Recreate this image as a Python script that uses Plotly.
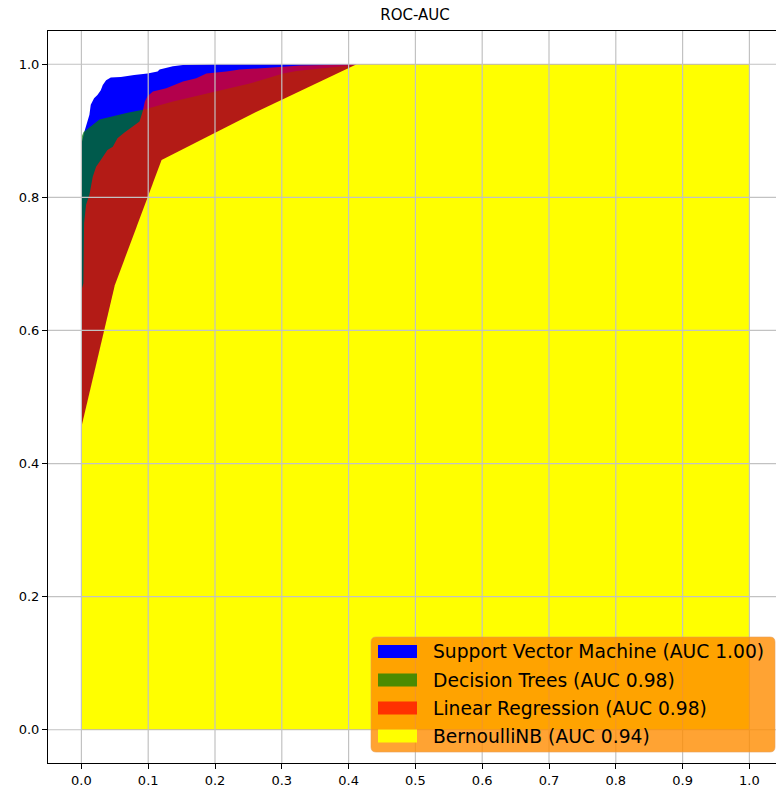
import plotly.graph_objects as go

# ---------------- data ----------------
model_names = ["Support Vector Machine (AUC 1.00)", "Decision Trees (AUC 0.98)",
               "Linear Regression (AUC 0.98)", "BernoulliNB (AUC 0.94)"]

svm_fpr = [0, 0, 0.004, 0.007, 0.012, 0.014, 0.019, 0.024, 0.029, 0.032, 0.037, 0.044,
           0.059, 0.079, 0.099, 0.114, 0.117, 0.137, 0.152, 0.2, 1.0]
svm_tpr = [0, 0.88, 0.897, 0.907, 0.924, 0.939, 0.949, 0.954, 0.961, 0.969, 0.976, 0.980,
           0.981, 0.984, 0.986, 0.989, 0.992, 0.997, 0.999, 1.0, 1.0]

dt_fpr = [0, 0, 0.003, 0.027, 0.069, 0.094, 0.137, 0.202, 0.252, 0.302, 0.322, 0.361, 0.406, 0.42, 1.0]
dt_tpr = [0, 0.89, 0.898, 0.917, 0.927, 0.932, 0.944, 0.959, 0.971, 0.986, 0.99, 0.994, 0.998, 1.0, 1.0]

lr_fpr = [0, 0, 0.003, 0.004, 0.007, 0.012, 0.017, 0.022, 0.029, 0.039, 0.047, 0.054, 0.064,
          0.077, 0.087, 0.092, 0.095, 0.099, 0.107, 0.127, 0.152, 0.172, 0.187, 0.217, 0.237,
          0.297, 0.327, 0.366, 0.40, 1.0]
lr_tpr = [0, 0.66, 0.671, 0.761, 0.789, 0.804, 0.831, 0.846, 0.856, 0.871, 0.876, 0.889, 0.897,
          0.907, 0.914, 0.93, 0.944, 0.952, 0.959, 0.964, 0.974, 0.979, 0.986, 0.989, 0.992,
          0.996, 0.998, 0.999, 1.0, 1.0]

nb_fpr = [0, 0, 0.05, 0.12, 0.267, 0.412, 1.0]
nb_tpr = [0, 0.455, 0.668, 0.856, 0.931, 1.0, 1.0]

x_ticks = [0.0, 0.1, 0.2, 0.3, 0.4, 0.5, 0.6, 0.7, 0.8, 0.9, 1.0]
x_tick_labels = ["0.0", "0.1", "0.2", "0.3", "0.4", "0.5", "0.6", "0.7", "0.8", "0.9", "1.0"]
y_ticks = [0.0, 0.2, 0.4, 0.6, 0.8, 1.0]
y_tick_labels = ["0.0", "0.2", "0.4", "0.6", "0.8", "1.0"]

# ---------------- style ----------------
fill_colors = ["rgb(0,0,255)", "rgba(0,128,0,0.7)", "rgba(255,0,0,0.7)", "rgb(255,255,0)"]
W, H = 776, 789
ML, MR, MT, MB = 48, 0, 31, 26
FONT = "DejaVu Sans"

fig = go.Figure()
series = [(svm_fpr, svm_tpr), (dt_fpr, dt_tpr), (lr_fpr, lr_tpr), (nb_fpr, nb_tpr)]
for (fx, fy), name, col in zip(series, model_names, fill_colors):
    fig.add_trace(go.Scatter(x=fx, y=fy, mode="lines", fill="tozeroy", fillcolor=col,
                             line=dict(width=0, color=col), name=name, showlegend=False,
                             hoverinfo="skip"))

# grid lines drawn above the fills (as in the reference)
grid_col = "#c2c2c2"
for xv in x_ticks:
    fig.add_shape(type="line", xref="x", yref="paper", x0=xv, x1=xv, y0=0, y1=1,
                  line=dict(color=grid_col, width=1.2), layer="above")
for yv in y_ticks:
    fig.add_shape(type="line", xref="paper", yref="y", x0=0, x1=1, y0=yv, y1=yv,
                  line=dict(color=grid_col, width=1.2), layer="above")

# ---------------- legend (matplotlib-like) ----------------
pw, ph = W - ML - MR, H - MT - MB
def px(X):
    return (X - ML) / pw
def py(Y):
    return (MT + ph - Y) / ph

lx0, lx1, ly0, ly1, r = 371, 775, 637, 752, 5
path = (f"M {px(lx0 + r)} {py(ly0)} L {px(lx1 - r)} {py(ly0)} "
        f"Q {px(lx1)} {py(ly0)} {px(lx1)} {py(ly0 + r)} L {px(lx1)} {py(ly1 - r)} "
        f"Q {px(lx1)} {py(ly1)} {px(lx1 - r)} {py(ly1)} L {px(lx0 + r)} {py(ly1)} "
        f"Q {px(lx0)} {py(ly1)} {px(lx0)} {py(ly1 - r)} L {px(lx0)} {py(ly0 + r)} "
        f"Q {px(lx0)} {py(ly0)} {px(lx0 + r)} {py(ly0)} Z")
fig.add_shape(type="path", xref="paper", yref="paper", path=path,
              fillcolor="rgba(255,140,0,0.8)", line=dict(color="rgba(230,160,90,0.6)", width=1),
              layer="above")
row_centers = [651.5, 680, 708, 736]
for yc, name, col in zip(row_centers, model_names, fill_colors):
    fig.add_shape(type="rect", xref="paper", yref="paper", x0=px(378), x1=px(417),
                  y0=py(yc - 6.5), y1=py(yc + 6.5), fillcolor=col, line=dict(width=0),
                  layer="above")
    fig.add_annotation(xref="paper", yref="paper", x=px(431), y=py(yc), text=name,
                       showarrow=False, xanchor="left", yanchor="middle",
                       font=dict(family=FONT, size=18.7, color="#000000"))

fig.update_layout(
    width=W, height=H,
    margin=dict(l=ML, r=MR, t=MT, b=MB, autoexpand=False),
    paper_bgcolor="white", plot_bgcolor="white",
    font=dict(family=FONT, size=13, color="#000000"),
    title=dict(text="ROC-AUC", x=415 / W, xanchor="center", y=1 - 15 / H, yanchor="middle",
               yref="container", font=dict(family=FONT, size=15, color="#000000")),
    showlegend=False,
)
fig.update_xaxes(range=[-0.05, -0.05 + (W - ML - MR) / 668.0], tickvals=x_ticks,
                 ticktext=x_tick_labels, showgrid=False, zeroline=False, showline=True,
                 linecolor="black", linewidth=1, mirror=True, ticks="outside", ticklen=5,
                 tickcolor="black", layer="above traces", automargin=False)
fig.update_yaxes(range=[-0.05, 1.05], tickvals=y_ticks, ticktext=y_tick_labels,
                 showgrid=False, zeroline=False, showline=True, linecolor="black",
                 linewidth=1, ticks="outside", ticklen=5, tickcolor="black",
                 layer="above traces", automargin=False)

fig.write_html("out.html", config={"displayModeBar": False},
               post_script="document.body.style.margin='0';document.body.style.padding='0';"
                           "document.body.style.overflow='hidden';")
